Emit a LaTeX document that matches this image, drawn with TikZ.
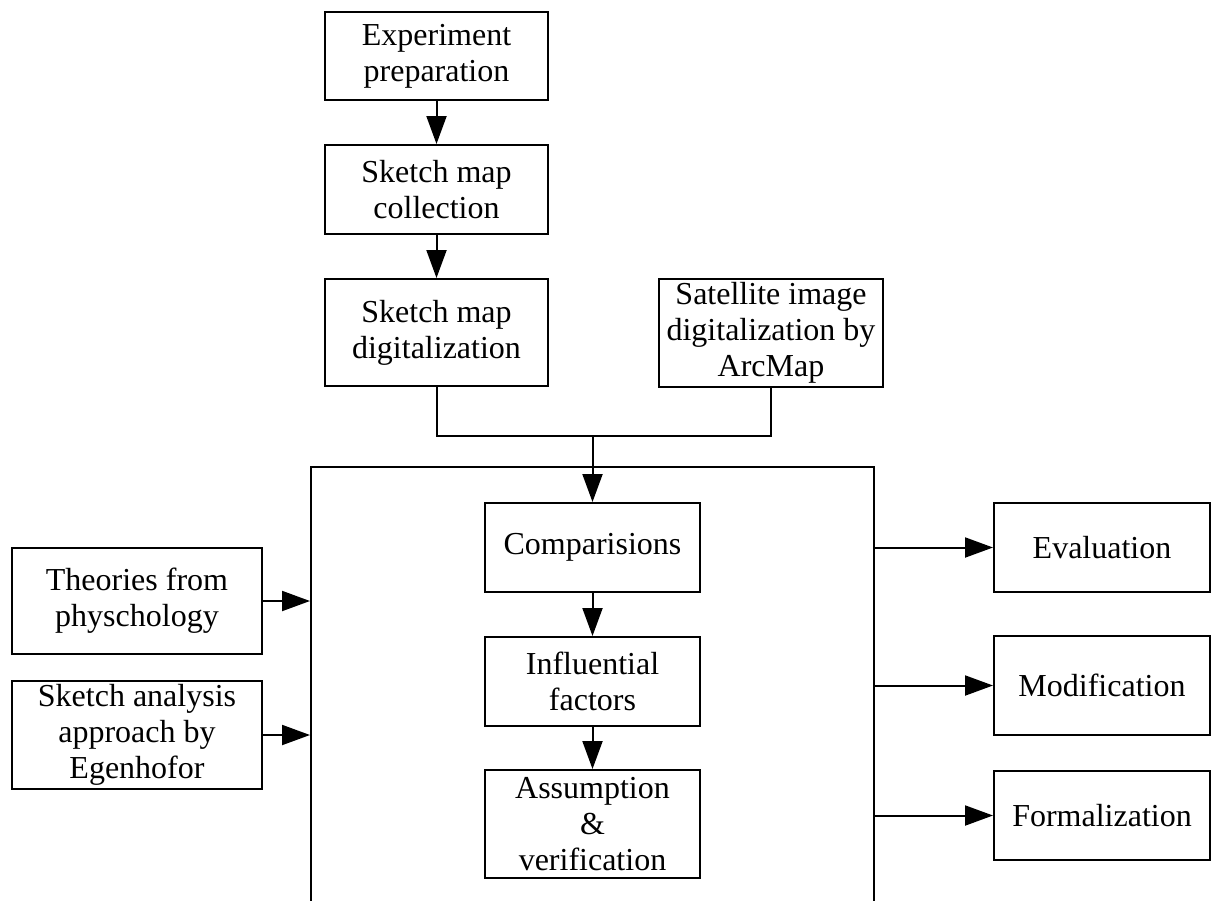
\documentclass[tikz,border=0pt]{standalone}
\usepackage{fontspec}
\setmainfont{Liberation Serif}
\usetikzlibrary{arrows.meta}
\begin{document}
\begin{tikzpicture}[x=1pt,y=-1pt,
  box/.style={draw, line width=2pt, align=center, inner sep=0pt,
    font=\fontsize{32}{36}\selectfont},
  wire/.style={line width=2pt},
  arr/.style={wire, -{Triangle[length=28pt,width=20pt]}}]
\useasboundingbox (0,0) rectangle (1216,900);
\clip (0,0) rectangle (1216,900);

% preparation chain
\node[box, minimum width=223pt, minimum height=88pt]  (exp) at (436.5,56)    {Experiment\\preparation};
\node[box, minimum width=223pt, minimum height=89pt]  (col) at (436.5,189.5) {Sketch map\\collection};
\node[box, minimum width=223pt, minimum height=107pt] (dig) at (436.5,332.5) {Sketch map\\digitalization};
\node[box, minimum width=224pt, minimum height=108pt] (sat) at (771,333)     {Satellite image\\digitalization by\\ArcMap};

% analysis frame (open at the bottom)
\node[draw, line width=2pt, inner sep=0pt, minimum width=563pt, minimum height=500pt] (frame) at (592.5,717) {};

\node[box, minimum width=215pt, minimum height=89pt]  (cmp) at (592.5,547.5) {Comparisions};
\node[box, minimum width=215pt, minimum height=89pt]  (inf) at (592.5,681.5) {Influential\\factors};
\node[box, minimum width=215pt, minimum height=108pt] (asm) at (592.5,824)   {Assumption\\\&\\verification};

% inputs
\node[box, minimum width=250pt, minimum height=106pt] (the) at (137,601) {Theories from\\physchology};
\node[box, minimum width=250pt, minimum height=108pt] (ska) at (137,735) {Sketch analysis\\approach by\\Egenhofor};

% outputs
\node[box, minimum width=216pt, minimum height=89pt] (eva) at (1102,547.5) {Evaluation};
\node[box, minimum width=216pt, minimum height=99pt] (mod) at (1102,685.5) {Modification};
\node[box, minimum width=216pt, minimum height=89pt] (frm) at (1102,815.5) {Formalization};

\coordinate (join) at (592.5,436);

\draw[arr] (exp) -- (col);
\draw[arr] (col) -- (dig);
\draw[wire] (dig.south) |- (join) -| (sat.south);
\draw[arr] (join) -- (cmp.north);
\draw[arr] (cmp) -- (inf);
\draw[arr] (inf) -- (asm);

\draw[arr] (the.east) -- (the.east -| frame.west);
\draw[arr] (ska.east) -- (ska.east -| frame.west);

\draw[arr] (frame.east |- eva.west) -- (eva.west);
\draw[arr] (frame.east |- mod.west) -- (mod.west);
\draw[arr] (frame.east |- frm.west) -- (frm.west);
\end{tikzpicture}
\end{document}
